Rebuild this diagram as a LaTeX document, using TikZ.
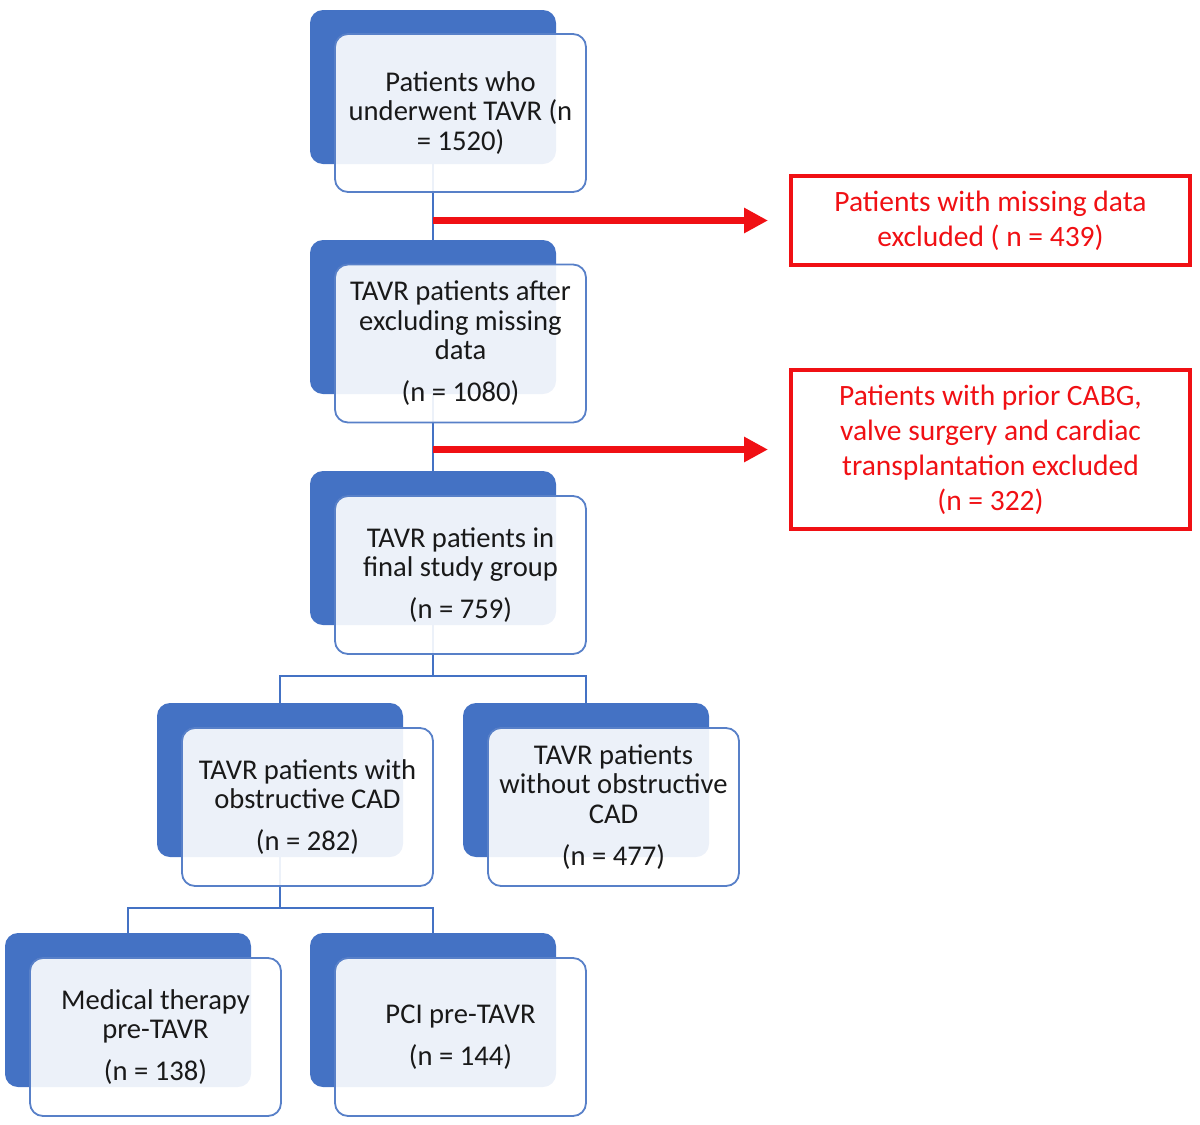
\documentclass[tikz,border=0pt]{standalone}
\usepackage{fontspec}
\setmainfont{Carlito}
\usetikzlibrary{arrows.meta}
\definecolor{bback}{RGB}{68,114,196}
\definecolor{bline}{RGB}{88,128,200}
\definecolor{xred}{RGB}{240,16,20}
\definecolor{txt}{RGB}{25,25,25}
\begin{document}
\begin{tikzpicture}[x=1pt,y=-1pt,
  backbox/.style={fill=bback, rounded corners=13pt, minimum width=246pt, minimum height=154pt, inner sep=0pt},
  frontbox/.style={draw=bline, line width=1.8pt, fill=white, fill opacity=0.9, text opacity=1, rounded corners=13pt, minimum width=251pt, minimum height=158pt, inner sep=0pt, align=center, font=\fontsize{28.6}{29.5}\selectfont, text=txt},
  link/.style={draw=bback, line width=2pt},
  redbox/.style={draw=xred, line width=4pt, text=xred, minimum width=399pt, align=center, font=\fontsize{29.5}{35}\selectfont, inner sep=0pt},
  redarrow/.style={draw=xred, line width=7pt, -{Triangle[length=24pt,width=24pt]}}
]
\useasboundingbox (0,0) rectangle (1200,1125);
% back boxes
\node[backbox] (b1) at (433,87) {};
\node[backbox] (b2) at (433,317) {};
\node[backbox] (b3) at (433,548) {};
\node[backbox] (b4) at (280,780) {};
\node[backbox] (b5) at (586,780) {};
\node[backbox] (b6) at (128,1010) {};
\node[backbox] (b7) at (433,1010) {};
% connectors
\draw[link] (b1.south) -- (b2.north);
\draw[link] (b2.south) -- (b3.north);
\draw[link] (b3.south) -- ++(0,51) -| (b4.north);
\draw[link] (b3.south) -- ++(0,51) -| (b5.north);
\draw[link] (b4.south) -- ++(0,51) -| (b6.north);
\draw[link] (b4.south) -- ++(0,51) -| (b7.north);
% front boxes
\node[frontbox] (f1) at ([shift={(27.5,26)}]b1.center) {Patients who\\underwent TAVR (n\\= 1520)};
\node[frontbox] (f2) at ([shift={(27.5,26.5)}]b2.center) {TAVR patients after\\excluding missing\\data\\[12.5pt](n = 1080)};
\node[frontbox] (f3) at ([shift={(27.5,27)}]b3.center) {TAVR patients in\\final study group\\[12.5pt](n = 759)};
\node[frontbox] (f4) at ([shift={(27.5,27)}]b4.center) {TAVR patients with\\obstructive CAD\\[12.5pt](n = 282)};
\node[frontbox] (f5) at ([shift={(27.5,27)}]b5.center) {TAVR patients\\without obstructive\\CAD\\[12.5pt](n = 477)};
\node[frontbox] (f6) at ([shift={(27.5,27)}]b6.center) {Medical therapy\\pre-TAVR\\[12.5pt](n = 138)};
\node[frontbox] (f7) at ([shift={(27.5,27)}]b7.center) {PCI pre-TAVR\\[12.5pt](n = 144)};
% red exclusion boxes
\node[redbox, minimum height=89pt] (r1) at (990.5,220.5) {Patients with missing data\\excluded ( n = 439)};
\node[redbox, minimum height=159pt] (r2) at (990.5,449.5) {Patients with prior CABG,\\valve surgery and cardiac\\transplantation excluded\\(n = 322)};
% red arrows
\draw[redarrow] (b1.south |- r1.west) -- ([xshift=-21pt]r1.west);
\draw[redarrow] (b2.south |- r2.west) -- ([xshift=-21pt]r2.west);
\end{tikzpicture}
\end{document}
